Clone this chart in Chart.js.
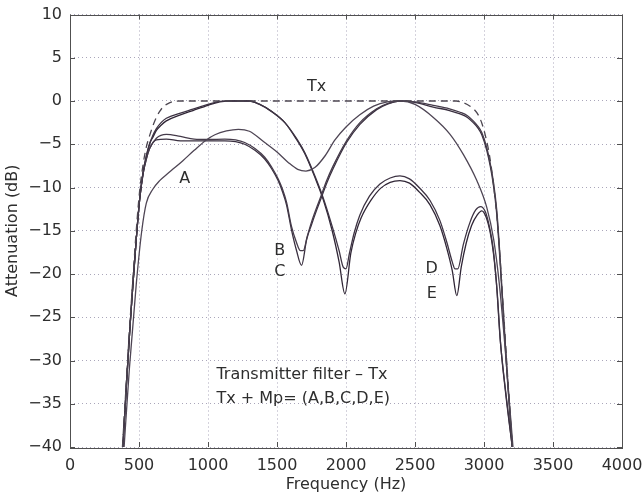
<!DOCTYPE html>
<html>
<head>
<meta charset="utf-8">
<script src="https://cdn.jsdelivr.net/npm/chart.js@4"></script>
<style>
  html, body { margin: 0; padding: 0; background: #ffffff; }
  #wrap { width: 644px; height: 494px; }
</style>
</head>
<body>
<div id="wrap"><canvas id="chart" width="644" height="494"></canvas></div>
<script>
// axis ticks
const xTicks = [0, 500, 1000, 1500, 2000, 2500, 3000, 3500, 4000];
const yTicks = [-40, -35, -30, -25, -20, -15, -10, -5, 0, 5, 10];

// Tx (dashed) - transmitter filter alone
const txFreq = [380, 410, 435, 456, 480, 504, 530, 555, 577, 600, 626, 650, 674, 710, 746, 800,
  1500, 2200, 2800, 2850, 2899, 2930, 2958, 2985, 3010, 3040, 3070, 3100, 3140, 3170, 3205];
const txDb = [-40, -32, -25.5, -20.5, -15, -10.5, -7.3, -5.2, -4.0, -2.9, -1.9, -1.2, -0.7, -0.3, -0.08, 0,
  0, 0, 0, -0.2, -0.6, -1.0, -1.6, -2.6, -4.0, -6.3, -9.8, -14.5, -24, -31.5, -40];

// A
const aFreq = [392, 430, 480, 520, 553, 600, 650, 700, 760, 818, 900, 988, 1050, 1134, 1220, 1300,
  1411, 1500, 1581, 1650, 1710, 1774, 1850, 1920, 2000, 2100, 2200, 2300, 2400, 2500, 2633, 2754,
  2851, 2948, 3020, 3070, 3110, 3150, 3180, 3210];
const aDb = [-40, -31, -21.2, -15, -11.8, -10.2, -9.2, -8.5, -7.7, -6.9, -5.7, -4.5, -3.9, -3.46, -3.27, -3.5,
  -4.8, -5.9, -7.1, -7.9, -8.1, -7.7, -6.3, -4.5, -3.0, -1.6, -0.6, -0.1, 0, -0.4, -1.9, -3.85,
  -6.2, -9.2, -12.3, -16, -21, -28, -34, -40];

// B
const bFreq = [383, 410, 435, 456, 480, 504, 530, 555, 577, 626, 698, 800, 900, 1000, 1121, 1200, 1266,
  1340, 1411, 1460, 1508, 1540, 1569, 1605, 1640, 1670, 1690, 1720, 1750, 1790, 1823, 1860, 1907,
  2004, 2101, 2222, 2300, 2391, 2500, 2632, 2750, 2827, 2880, 2922, 2955, 2984, 3020, 3045, 3067,
  3093, 3120, 3141, 3170, 3205];
const bDb = [-40, -32.5, -26, -21.2, -16, -11.5, -8.4, -6.6, -5.5, -4.3, -3.85, -4.1, -4.4, -4.45, -4.4, -4.5, -4.8,
  -5.5, -6.5, -7.6, -9.0, -10.2, -11.7, -14.5, -16.3, -17.3, -17.3, -15.6, -14.0, -12.2, -10.8, -9.2, -7.5,
  -4.6, -2.5, -0.9, -0.3, 0, -0.1, -0.5, -0.9, -1.3, -1.7, -2.3, -2.9, -3.65, -5.4, -7.2, -9.2,
  -12.7, -19, -24.6, -32, -40];

// C
const cFreq = [383, 410, 435, 456, 480, 504, 530, 555, 577, 626, 698, 800, 900, 1000, 1121, 1200, 1266,
  1340, 1411, 1460, 1508, 1540, 1569, 1605, 1640, 1678, 1715, 1750, 1790, 1823, 1860, 1907,
  2004, 2101, 2222, 2300, 2391, 2500, 2632, 2750, 2827, 2880, 2922, 2955, 2984, 3020, 3045, 3067,
  3093, 3120, 3141, 3170, 3205];
const cDb = [-40, -32.5, -26, -21.2, -16, -11.5, -8.4, -6.6, -5.5, -4.5, -4.4, -4.6, -4.6, -4.6, -4.6, -4.7, -5.0,
  -5.7, -6.7, -7.8, -9.2, -10.5, -12.0, -14.9, -17.2, -19.0, -16.0, -14.3, -12.5, -11.1, -9.5, -7.8,
  -4.8, -2.7, -1.0, -0.35, 0, -0.15, -0.7, -1.1, -1.5, -1.9, -2.5, -3.1, -3.9, -5.7, -7.5, -9.6,
  -13.2, -19.5, -25, -32.3, -40];

// D
const dFreq = [383, 410, 435, 456, 480, 504, 530, 555, 577, 600, 626, 660, 698, 800, 891, 1000, 1085, 1150,
  1300, 1375, 1460, 1557, 1640, 1702, 1774, 1835, 1900, 1950, 1980, 2000, 2025, 2060, 2100, 2170,
  2246, 2320, 2391, 2460, 2530, 2609, 2680, 2730, 2770, 2790, 2810, 2850, 2899, 2940, 2975, 3010,
  3040, 3066, 3090, 3117, 3160, 3205];
const dDb = [-40, -32.5, -26, -21.2, -16, -11.5, -8.2, -6.3, -5.0, -4.0, -3.2, -2.5, -2.0, -1.4, -0.95, -0.4, -0.05, 0,
  0, -0.4, -1.2, -2.5, -4.3, -6.0, -8.65, -11.2, -14.5, -17.3, -19.2, -19.4, -17.6, -15.2, -13.2, -11.0,
  -9.6, -8.9, -8.65, -9.0, -10.0, -11.5, -13.8, -16.3, -18.6, -19.4, -19.4, -16.6, -14.0, -12.6, -12.2, -12.8,
  -14.6, -17, -21, -27.5, -34, -40];

// E
const eFreq = [383, 410, 435, 456, 480, 504, 530, 555, 577, 600, 626, 660, 698, 800, 891, 1000, 1085, 1150,
  1300, 1375, 1460, 1557, 1640, 1702, 1774, 1835, 1900, 1950, 1992, 2035, 2070, 2110, 2180,
  2250, 2320, 2391, 2460, 2530, 2609, 2680, 2730, 2770, 2803, 2835, 2870, 2910, 2950, 2984, 3015,
  3045, 3070, 3095, 3120, 3160, 3205];
const eDb = [-40, -32.5, -26, -21.2, -16, -11.5, -8.2, -6.2, -4.9, -4.2, -3.4, -2.8, -2.3, -1.6, -1.1, -0.5, -0.1, 0,
  0, -0.4, -1.2, -2.5, -4.4, -6.1, -8.8, -11.4, -15, -18.6, -22.3, -17.6, -15.3, -13.5, -11.5,
  -10.1, -9.4, -9.2, -9.5, -10.5, -12.0, -14.4, -17.0, -19.6, -22.5, -19.2, -16.5, -14.4, -13.2, -12.7, -13.4,
  -15.2, -17.8, -22, -28, -34.2, -40];

// text placed on the plot (data coordinates)
const curveLabels = ['Tx', 'A', 'B', 'C', 'D', 'E'];
const curveLabelX = [1787, 831, 1520, 1520, 2621, 2621];
const curveLabelY = [1.6, -9.0, -17.3, -19.8, -19.4, -22.3];
const noteLines = ['Transmitter filter \u2013 Tx', 'Tx + Mp= (A,B,C,D,E)'];
const noteX = 1061;
const noteY = [-31.7, -34.4];

const FONT = '"DejaVu Sans", sans-serif';

function toPoints(xs, ys) {
  return xs.map((x, i) => ({ x: x, y: ys[i] }));
}

function lineSet(label, xs, ys, color, dash) {
  return {
    label: label,
    data: toPoints(xs, ys),
    borderColor: color,
    borderWidth: 1.3,
    borderDash: dash || [],
    pointRadius: 0,
    fill: false,
    cubicInterpolationMode: 'monotone'
  };
}

// box, inward tick marks on all four sides, plus the text labels
const framePlugin = {
  id: 'frame',
  afterDatasetsDraw(chart) {
    const ctx = chart.ctx;
    const xs = chart.scales.x;
    const ys = chart.scales.y;
    const area = chart.chartArea;
    ctx.save();
    ctx.strokeStyle = '#505050';
    ctx.lineWidth = 1;
    ctx.strokeRect(Math.round(area.left) + 0.5, Math.round(area.top) + 0.5,
      Math.round(area.right - area.left), Math.round(area.bottom - area.top));
    ctx.beginPath();
    xTicks.forEach(v => {
      const px = Math.round(xs.getPixelForValue(v)) + 0.5;
      ctx.moveTo(px, area.bottom); ctx.lineTo(px, area.bottom - 5);
      ctx.moveTo(px, area.top); ctx.lineTo(px, area.top + 5);
    });
    yTicks.forEach(v => {
      const py = Math.round(ys.getPixelForValue(v)) + 0.5;
      ctx.moveTo(area.left, py); ctx.lineTo(area.left + 5, py);
      ctx.moveTo(area.right, py); ctx.lineTo(area.right - 5, py);
    });
    ctx.stroke();

    ctx.fillStyle = '#2e2e2e';
    ctx.font = '16px ' + FONT;
    ctx.textBaseline = 'middle';
    ctx.textAlign = 'center';
    curveLabels.forEach((t, i) => {
      ctx.fillText(t, xs.getPixelForValue(curveLabelX[i]), ys.getPixelForValue(curveLabelY[i]));
    });
    ctx.textAlign = 'left';
    noteLines.forEach((t, i) => {
      ctx.fillText(t, xs.getPixelForValue(noteX), ys.getPixelForValue(noteY[i]));
    });
    ctx.restore();
  }
};

const ctx = document.getElementById('chart').getContext('2d');
new Chart(ctx, {
  type: 'line',
  data: {
    datasets: [
      lineSet('Tx', txFreq, txDb, '#4c4650', [7, 5]),
      lineSet('A', aFreq, aDb, '#4e4554'),
      lineSet('B', bFreq, bDb, '#453b4a'),
      lineSet('C', cFreq, cDb, '#3a3040'),
      lineSet('D', dFreq, dDb, '#3e3444'),
      lineSet('E', eFreq, eDb, '#302636')
    ]
  },
  options: {
    responsive: false,
    animation: false,
    devicePixelRatio: 1,
    layout: { padding: { left: 0, top: 14.5, right: 22, bottom: 0 } },
    plugins: {
      legend: { display: false },
      tooltip: { enabled: false }
    },
    scales: {
      x: {
        type: 'linear',
        min: 0,
        max: 4000,
        afterBuildTicks: s => { s.ticks = xTicks.map(v => ({ value: v })); },
        afterFit: s => { s.height = 47; s.paddingLeft = 0; s.paddingRight = 0; },
        grid: { color: '#aaa6ba', lineWidth: 1, drawTicks: false },
        border: { display: false, dash: [1, 3] },
        ticks: {
          padding: 9,
          color: '#2e2e2e',
          font: { family: FONT, size: 16 },
          maxRotation: 0,
          callback: v => String(v)
        },
        title: {
          display: true,
          text: 'Frequency (Hz)',
          color: '#2e2e2e',
          font: { family: FONT, size: 16 },
          padding: { top: 2, bottom: 0 }
        }
      },
      y: {
        type: 'linear',
        min: -40,
        max: 10,
        afterBuildTicks: s => { s.ticks = yTicks.map(v => ({ value: v })); },
        afterFit: s => { s.width = 70; s.paddingTop = 0; s.paddingBottom = 0; },
        grid: { color: '#aaa6ba', lineWidth: 1, drawTicks: false },
        border: { display: false, dash: [1, 3] },
        ticks: {
          padding: 8,
          color: '#2e2e2e',
          font: { family: FONT, size: 16 },
          callback: v => (v < 0 ? '\u2212' + Math.abs(v) : String(v))
        },
        title: {
          display: true,
          text: 'Attenuation (dB)',
          color: '#2e2e2e',
          font: { family: FONT, size: 16 },
          padding: { top: 3, bottom: 0 }
        }
      }
    }
  },
  plugins: [framePlugin]
});
</script>
</body>
</html>
